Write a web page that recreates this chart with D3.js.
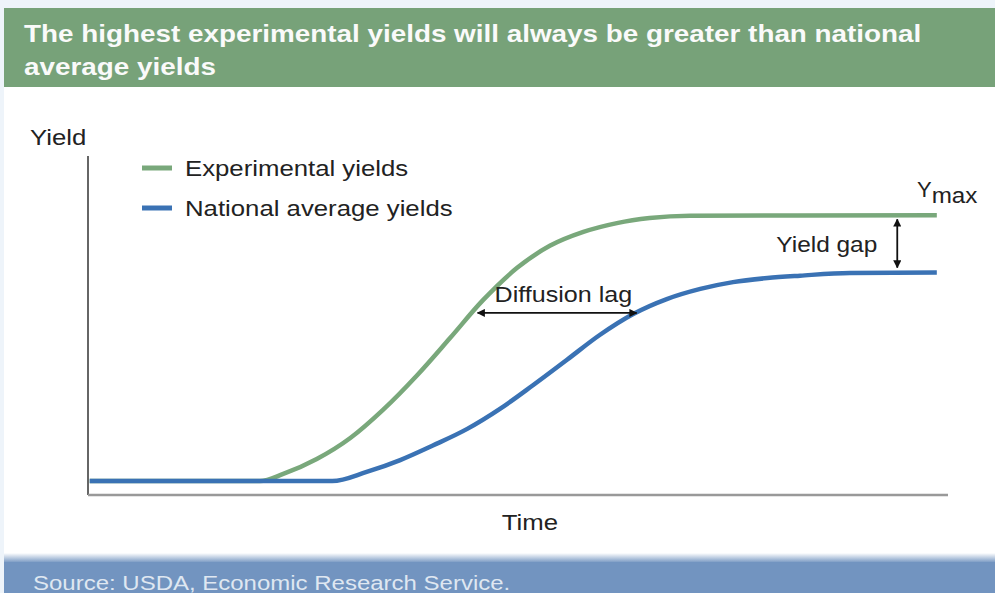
<!DOCTYPE html>
<html>
<head>
<meta charset="utf-8">
<script src="https://cdn.jsdelivr.net/npm/d3@7"></script>
<style>
  body { margin: 0; background: #eef4fa; }
  svg { display: block; font-family: "Liberation Sans", Arial, Helvetica, sans-serif; }
</style>
</head>
<body>
<div id="chart"></div>
<script>
// conceptual curves (time 0-100, yield 0-100)
const expTime  = [0.2, 20.0, 22.7, 26.6, 30.5, 34.3, 38.3, 42.1, 45.9, 49.9, 53.7, 57.6, 61.5, 65.3, 70.0, 98.7]
const expYield = [4.1, 4.1, 6.2, 10.6, 16.8, 25.1, 35.4, 46.3, 57.4, 67.0, 73.5, 77.6, 80.2, 81.7, 82.4, 82.5]
const natTime  = [0.2, 28.4, 32.4, 36.3, 40.1, 44.1, 47.9, 51.7, 55.7, 59.5, 63.4, 67.3, 71.2, 75.0, 79.0, 82.8, 88.6, 98.7]
const natYield = [4.1, 4.1, 6.8, 10.3, 14.6, 19.5, 25.4, 32.3, 39.9, 47.2, 53.4, 57.8, 60.8, 62.8, 64.0, 64.7, 65.5, 65.6]

const seriesNames = ["Experimental yields", "National average yields"]
const seriesColors = ["#79a87b", "#3a72b4"]

const title = ["The highest experimental yields will always be greater than national", "average yields"]
const source = "Source: USDA, Economic Research Service."

const width = 995, height = 593
const margin = {top: 156, right: 47, bottom: 98, left: 88}
const stretchK = 1.17

// the original artwork has slightly widened type
function stretch(sel, k = stretchK) {
  sel.each(function() {
    const w = this.getComputedTextLength()
    d3.select(this).attr("textLength", w * k).attr("lengthAdjust", "spacingAndGlyphs")
  })
}

const svg = d3.select("#chart").append("svg")
  .attr("width", width)
  .attr("height", height)
  .attr("viewBox", [0, 0, width, height])

const defs = svg.append("defs")
const fade = defs.append("linearGradient").attr("id", "fade").attr("x1", 0).attr("x2", 0).attr("y1", 0).attr("y2", 1)
fade.append("stop").attr("offset", 0).attr("stop-color", "#ffffff")
fade.append("stop").attr("offset", 1).attr("stop-color", "#7294c0")

const marker = defs.append("marker")
  .attr("id", "head")
  .attr("viewBox", "0 0 10 10")
  .attr("refX", 9).attr("refY", 5)
  .attr("markerWidth", 4.5).attr("markerHeight", 4.5)
  .attr("orient", "auto-start-reverse")
marker.append("path").attr("d", "M0,0L10,5L0,10z").attr("fill", "#111")

// panels
svg.append("rect").attr("width", width).attr("height", height).attr("fill", "#eef4fa")
svg.append("rect").attr("x", 4).attr("y", 87).attr("width", width - 4).attr("height", 470).attr("fill", "#fff")
svg.append("rect").attr("x", 4).attr("y", 553).attr("width", width - 4).attr("height", 10).attr("fill", "url(#fade)")
svg.append("rect").attr("x", 4).attr("y", 562).attr("width", width - 4).attr("height", 31).attr("fill", "#7294c0")
svg.append("rect").attr("x", 4).attr("y", 8).attr("width", width - 4).attr("height", 79).attr("fill", "#77a279")

svg.append("text")
  .attr("fill", "#fafafa")
  .attr("font-weight", "bold")
  .attr("font-size", 24)
  .selectAll("tspan")
  .data(title)
  .join("tspan")
  .attr("x", 24)
  .attr("y", (d, i) => 42 + i * 33)
  .text(d => d)
  .call(stretch, 1.16)

svg.append("text")
  .attr("x", 33).attr("y", 590)
  .attr("fill", "#dfe7f1")
  .attr("font-size", 20.5)
  .text(source)
  .call(stretch)

const x = d3.scaleLinear().domain([0, 100]).range([margin.left, width - margin.right])
const y = d3.scaleLinear().domain([0, 100]).range([height - margin.bottom, margin.top])

// axes
svg.append("line")
  .attr("x1", x(0)).attr("x2", x(0))
  .attr("y1", y(100)).attr("y2", y(0))
  .attr("stroke", "#333").attr("stroke-width", 1.5)
svg.append("line")
  .attr("x1", x(0)).attr("x2", x(100))
  .attr("y1", y(0)).attr("y2", y(0))
  .attr("stroke", "#999").attr("stroke-width", 2.5)

svg.append("text").attr("x", 30).attr("y", 145).attr("font-size", 22).attr("fill", "#222")
  .text("Yield").call(stretch)
svg.append("text").attr("x", (x(0) + x(100)) / 2 + 12).attr("y", 530)
  .attr("text-anchor", "middle").attr("font-size", 22).attr("fill", "#222")
  .text("Time").call(stretch)

// curves
const line = d3.line().x(d => x(d[0])).y(d => y(d[1])).curve(d3.curveMonotoneX)
const series = [d3.zip(expTime, expYield), d3.zip(natTime, natYield)]

svg.append("g")
  .attr("fill", "none")
  .attr("stroke-width", 4.5)
  .selectAll("path")
  .data(series)
  .join("path")
  .attr("stroke", (d, i) => seriesColors[i])
  .attr("d", line)

// legend
const legend = svg.append("g").selectAll("g")
  .data(seriesNames)
  .join("g")
  .attr("transform", (d, i) => `translate(142, ${168 + i * 40})`)
legend.append("line").attr("x2", 30).attr("stroke", (d, i) => seriesColors[i]).attr("stroke-width", 5)
legend.append("text").attr("x", 43).attr("y", 8).attr("font-size", 22).attr("fill", "#222")
  .text(d => d).call(stretch)

// annotations
const expMax = d3.max(expYield), natMax = d3.max(natYield)
const lagY = 53.7, lagFrom = 45.3, lagTo = 63.8
svg.append("line")
  .attr("x1", x(lagFrom)).attr("x2", x(lagTo))
  .attr("y1", y(lagY)).attr("y2", y(lagY))
  .attr("stroke", "#111").attr("stroke-width", 1.8)
  .attr("marker-start", "url(#head)").attr("marker-end", "url(#head)")
svg.append("text").attr("x", x(lagFrom) + 17).attr("y", y(lagY) - 11)
  .attr("font-size", 22).attr("fill", "#222").text("Diffusion lag").call(stretch, 1.14)

const gapX = 94.1
svg.append("line")
  .attr("x1", x(gapX)).attr("x2", x(gapX))
  .attr("y1", y(expMax) + 4).attr("y2", y(natMax) - 5)
  .attr("stroke", "#111").attr("stroke-width", 1.8)
  .attr("marker-start", "url(#head)").attr("marker-end", "url(#head)")
svg.append("text").attr("x", x(gapX) - 20).attr("y", 252)
  .attr("text-anchor", "end").attr("font-size", 22).attr("fill", "#222")
  .text("Yield gap").call(stretch, 1.11)

const ymax = svg.append("text").attr("x", 917).attr("y", 197).attr("font-size", 22).attr("fill", "#222")
ymax.append("tspan").text("Y")
ymax.append("tspan").attr("dy", 6).text("max").call(stretch, 1.1)
</script>
</body>
</html>
